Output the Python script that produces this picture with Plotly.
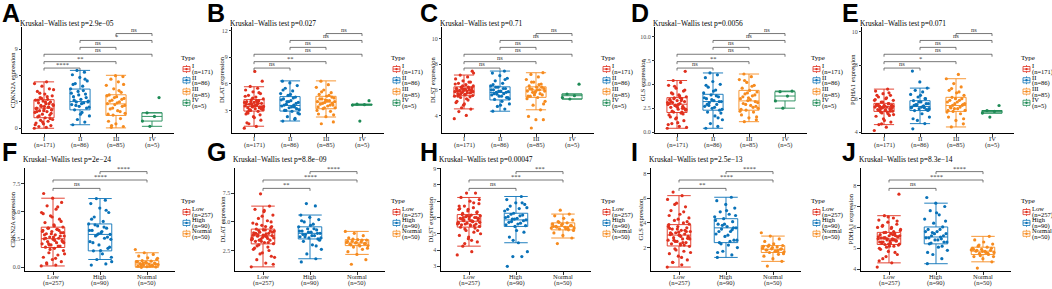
import plotly.graph_objects as go

W, H = 1052, 289

# ---------------- data ----------------
STAGE = ["I", "II", "III", "IV"]
STAGE_N = ["(n=171)", "(n=86)", "(n=85)", "(n=5)"]
RISK = ["Low", "High", "Normal"]
RISK_N = ["(n=257)", "(n=90)", "(n=50)"]
GENES = ["CDKN2A", "DLAT", "DLST", "GLS", "PDHA1"]
PVAL_STAGE = ["2.9e\u221205", "0.027", "0.71", "0.0056", "0.071"]
PVAL_RISK = ["2e\u221224", "8.8e\u221209", "0.00047", "2.5e\u221213", "8.3e\u221214"]
# pair order stage: I-II, I-III, I-IV, II-III, II-IV, III-IV
SIG_A = ["****", "**", "ns", "ns", "*", "ns"]
SIG_B = ["ns", "**", "ns", "ns", "ns", "ns"]
SIG_C = ["ns", "ns", "ns", "ns", "ns", "ns"]
SIG_D = ["ns", "**", "ns", "ns", "ns", "ns"]
SIG_E = ["ns", "*", "ns", "ns", "ns", "ns"]
# pair order risk: Low-High, Low-Normal, High-Normal
SIG_F = ["ns", "****", "****"]
SIG_G = ["**", "****", "****"]
SIG_H = ["ns", "***", "***"]
SIG_I = ["**", "****", "****"]
SIG_J = ["ns", "****", "****"]

# box statistics per group: lower whisker, q1, median, q3, upper whisker
A_LO = [0.0, 0.4, 0.04, 0.22];  A_Q1 = [1.2, 2.1, 1.46, 0.82];  A_MED = [2.3, 3.04, 2.78, 1.35]
A_Q3 = [3.26, 4.47, 3.82, 1.76]; A_HI = [5.29, 6.6, 6.04, 1.76]
B_LO = [1.22, 1.81, 2.26, 3.6];  B_Q1 = [2.93, 2.93, 3.19, 3.6];  B_MED = [3.44, 3.56, 3.93, 3.65]
B_Q3 = [4.22, 4.56, 4.59, 3.7];  B_HI = [5.67, 6.33, 6.33, 3.7]
C_LO = [4.51, 4.33, 4.44, 5.28]; C_Q1 = [5.54, 5.21, 5.41, 5.28]; C_MED = [5.92, 5.79, 5.98, 5.54]
C_Q3 = [6.23, 6.23, 6.23, 5.67]; C_HI = [7.15, 7.46, 7.33, 5.67]
D_LO = [0.41, 0.41, 1.1, 2.51];  D_Q1 = [2.06, 2.3, 2.3, 3.27];   D_MED = [2.92, 3.2, 3.27, 3.78]
D_Q3 = [3.61, 3.96, 4.37, 4.23]; D_HI = [5.4, 6.19, 6.08, 4.3]
E_LO = [4.45, 4.51, 4.31, 5.14]; E_Q1 = [5.24, 5.29, 5.24, 5.14]; E_MED = [5.53, 5.53, 5.59, 5.24]
E_Q3 = [5.72, 5.88, 6.08, 5.29]; E_HI = [6.57, 6.63, 7.19, 5.29]
F_LO = [0.12, 0.7, 0.0];   F_Q1 = [1.77, 1.47, 0.06];  F_MED = [2.56, 2.94, 0.29]
F_Q3 = [3.59, 3.88, 0.59]; F_HI = [6.18, 6.15, 1.3]
G_LO = [1.07, 1.78, 2.16]; G_Q1 = [3.08, 3.51, 2.93];  G_MED = [3.79, 4.0, 3.16]
G_Q3 = [4.37, 4.57, 3.45]; G_HI = [6.38, 5.6, 4.17]
H_LO = [4.24, 4.45, 4.74]; H_Q1 = [5.41, 5.45, 5.24];  H_MED = [5.77, 5.85, 5.45]
H_Q3 = [6.18, 6.26, 5.67]; H_HI = [7.23, 7.29, 6.21]
I_LO = [0.42, 1.2, 0.88];  I_Q1 = [2.13, 2.4, 1.6];    I_MED = [3.01, 3.6, 1.86]
I_Q3 = [3.86, 4.34, 2.16]; I_HI = [6.21, 6.08, 2.93]
J_LO = [4.3, 4.26, 4.35];  J_Q1 = [5.18, 5.21, 4.7];   J_MED = [5.45, 5.54, 4.86]
J_Q3 = [5.76, 6.02, 5.05]; J_HI = [6.56, 7.16, 5.57]

# individual sample points
A_I = [0.0, 0.1, 0.2, 0.3, 0.5, 0.6, 0.8, 0.9, 1.0, 1.2, 1.3, 1.5, 1.6, 1.8, 1.9, 2.0, 2.1, 2.2,
       2.3, 2.4, 2.5, 2.6, 2.8, 2.9, 3.0, 3.1, 3.2, 3.3, 3.5, 3.7, 3.9, 4.2, 4.5, 4.8, 5.1, 5.3,
       1.4, 1.7, 2.0, 2.2, 2.4, 2.6, 2.7, 3.0, 3.2, 1.1, 0.7, 0.4, 3.6, 4.0, 2.1, 2.5, 1.9, 2.8, 3.4, 4.4]
A_II = [0.4, 0.7, 1.0, 1.4, 1.8, 2.1, 2.3, 2.5, 2.7, 2.9, 3.0, 3.1, 3.3, 3.6, 3.9, 4.2, 4.5,
        4.8, 5.1, 5.4, 5.8, 6.1, 6.4, 6.6, 2.4, 2.8, 3.2, 3.5, 3.8, 4.0, 4.3, 2.6, 3.0, 1.6, 5.0, 5.6]
A_III = [0.1, 0.2, 0.5, 0.8, 1.1, 1.5, 1.7, 2.0, 2.2, 2.5, 2.7, 2.8, 3.0, 3.2, 3.4, 3.6, 3.8,
         4.1, 4.5, 4.9, 5.3, 5.6, 5.9, 6.0, 1.6, 1.9, 2.3, 2.6, 2.9, 3.1, 3.3, 3.5, 3.7, 4.3, 0.3, 5.0]
A_IV = [0.22, 0.82, 1.35, 1.76, 3.5]
B_I = [1.0, 1.2, 1.5, 1.9, 2.3, 2.6, 2.9, 3.0, 3.1, 3.2, 3.3, 3.4, 3.4, 3.5, 3.6, 3.7, 3.8, 3.9,
       4.0, 4.1, 4.2, 4.3, 4.5, 4.7, 4.9, 5.1, 5.3, 5.5, 5.7, 6.3, 7.4, 2.8, 3.3, 3.6, 3.9, 4.1,
       3.0, 3.2, 3.5, 3.7, 3.8, 4.0, 3.3, 3.6, 2.7, 2.5, 4.4, 4.6, 3.9, 3.1, 3.4, 2.2, 1.6, 5.0, 3.75, 3.45]
B_II = [1.8, 2.0, 2.3, 2.6, 2.9, 3.0, 3.2, 3.3, 3.5, 3.6, 3.7, 3.9, 4.1, 4.3, 4.5, 4.7, 4.9,
        5.2, 5.5, 5.8, 6.1, 6.3, 3.4, 4.0, 3.1, 3.4, 3.6, 3.8, 4.0, 4.2, 4.4, 3.0, 2.7, 4.8, 5.3, 2.1]
B_III = [1.5, 1.7, 2.3, 2.6, 2.9, 3.2, 3.3, 3.5, 3.7, 3.8, 3.9, 4.0, 4.1, 4.3, 4.4, 4.6, 4.8,
         5.0, 5.3, 5.6, 5.9, 6.3, 3.6, 4.2, 3.4, 3.6, 3.8, 4.0, 4.1, 4.3, 4.5, 3.3, 3.0, 4.7, 5.1, 2.5]
B_IV = [1.8, 3.6, 3.65, 3.7, 4.1]
C_I = [3.75, 4.0, 4.3, 4.5, 4.8, 5.0, 5.2, 5.4, 5.55, 5.6, 5.7, 5.75, 5.8, 5.85, 5.9, 5.95, 6.0,
       6.05, 6.1, 6.15, 6.2, 6.3, 6.4, 6.5, 6.6, 6.7, 6.85, 7.0, 7.15, 7.45, 5.65, 5.9, 6.0, 6.1, 5.5, 5.3,
       5.6, 5.8, 5.95, 6.1, 6.2, 5.7, 5.85, 6.05, 5.5, 5.45, 6.3, 6.45, 5.75, 5.9, 6.15, 4.9, 5.1, 6.6, 4.6, 7.3]
C_II = [4.33, 4.5, 4.7, 4.9, 5.1, 5.25, 5.4, 5.5, 5.6, 5.7, 5.8, 5.85, 5.9, 6.0, 6.1, 6.2, 6.3,
        6.5, 6.7, 6.9, 7.1, 7.3, 7.46, 5.65, 5.3, 5.5, 5.7, 5.8, 5.9, 6.0, 6.1, 6.2, 5.4, 4.8, 6.4, 6.8]
C_III = [3.02, 3.67, 3.67, 3.92, 4.44, 4.8, 5.1, 5.4, 5.5, 5.6, 5.75, 5.9, 6.0, 6.05, 6.1, 6.2,
         6.3, 6.45, 6.6, 6.8, 7.0, 7.2, 7.33, 5.85, 5.5, 5.7, 5.8, 5.9, 6.0, 6.1, 6.2, 5.6, 5.3, 6.4, 6.6, 4.9]
C_IV = [5.28, 5.4, 5.54, 5.67, 6.44]
D_I = [0.41, 0.6, 0.9, 1.2, 1.5, 1.8, 2.0, 2.1, 2.3, 2.4, 2.6, 2.7, 2.8, 2.9, 3.0, 3.1, 3.2, 3.3,
       3.4, 3.5, 3.6, 3.7, 3.9, 4.1, 4.3, 4.6, 4.9, 5.2, 5.4, 6.36, 1.0, 1.6, 2.5, 2.8, 3.1, 3.8,
       2.2, 2.5, 2.7, 3.0, 3.3, 3.5, 2.4, 2.9, 3.2, 1.9, 1.4, 0.8, 3.6, 4.0, 4.4, 2.6, 3.4, 2.1, 4.8, 0.5]
D_II = [0.41, 0.6, 0.9, 1.3, 1.7, 2.1, 2.3, 2.5, 2.7, 2.9, 3.1, 3.2, 3.3, 3.5, 3.7, 3.9, 4.1,
        4.4, 4.7, 5.0, 5.3, 5.7, 6.0, 6.19, 2.4, 2.6, 2.9, 3.2, 3.4, 3.6, 3.8, 2.8, 2.0, 4.3, 4.9, 1.5]
D_III = [1.1, 1.3, 1.5, 1.8, 2.1, 2.3, 2.5, 2.8, 3.0, 3.2, 3.3, 3.5, 3.8, 4.0, 4.2, 4.37, 4.6,
         4.9, 5.2, 5.5, 5.8, 6.08, 2.7, 3.6, 2.4, 2.6, 2.9, 3.1, 3.4, 3.7, 3.9, 4.1, 2.2, 4.8, 5.4, 1.6]
D_IV = [2.51, 3.27, 3.78, 4.23, 4.3]
E_I = [4.1, 4.3, 4.45, 4.6, 4.8, 4.95, 5.1, 5.2, 5.25, 5.3, 5.35, 5.4, 5.45, 5.5, 5.5, 5.55, 5.6,
       5.6, 5.65, 5.7, 5.8, 5.9, 6.0, 6.1, 6.2, 6.3, 6.45, 6.57, 5.35, 5.45, 5.55, 5.65, 5.0, 5.15, 5.9, 6.05,
       5.3, 5.4, 5.5, 5.6, 5.7, 5.45, 5.55, 5.35, 5.65, 5.25, 5.8, 5.95, 5.2, 5.5, 5.6, 4.7, 6.2, 6.35, 4.5, 5.05]
E_II = [4.2, 4.51, 4.7, 4.9, 5.1, 5.29, 5.35, 5.4, 5.5, 5.55, 5.6, 5.7, 5.8, 5.88, 6.0, 6.1, 6.25,
        6.4, 6.5, 6.63, 7.0, 7.65, 5.45, 5.65, 5.4, 5.5, 5.6, 5.7, 5.8, 5.45, 5.55, 5.65, 5.3, 6.2, 4.8, 6.0]
E_III = [4.31, 4.5, 4.7, 4.9, 5.1, 5.24, 5.3, 5.4, 5.5, 5.6, 5.7, 5.8, 5.9, 6.08, 6.2, 6.35, 6.5,
         6.7, 6.9, 7.19, 7.45, 5.45, 5.65, 6.0, 5.3, 5.5, 5.6, 5.7, 5.8, 5.9, 6.0, 5.4, 5.2, 6.4, 6.6, 4.8]
E_IV = [4.9, 5.14, 5.24, 5.29, 5.59]
F_LOW = [0.12, 0.2, 0.3, 0.5, 0.7, 0.9, 1.1, 1.3, 1.5, 1.7, 1.8, 1.9, 2.0, 2.1, 2.2, 2.3, 2.4, 2.5,
         2.55, 2.6, 2.7, 2.8, 2.9, 3.0, 3.1, 3.2, 3.3, 3.4, 3.5, 3.6, 3.8, 4.0, 4.3, 4.6, 4.9, 5.2,
         5.5, 5.8, 6.18, 6.6, 1.9, 2.0, 2.2, 2.4, 2.6, 2.8, 3.0, 3.2, 3.4, 3.5, 2.3, 2.7, 2.9, 3.3,
         1.6, 1.2, 0.8, 0.4, 4.1, 4.5, 4.8, 5.4, 2.1, 3.1, 3.7]
F_HIGH = [0.2, 0.3, 0.7, 0.9, 1.2, 1.47, 1.7, 2.0, 2.3, 2.6, 2.8, 2.94, 3.1, 3.3, 3.5, 3.7, 3.88,
          4.1, 4.5, 4.9, 5.3, 5.7, 6.0, 6.15, 2.5, 3.2, 2.2, 2.7, 3.0, 3.3, 3.6, 3.8, 1.8, 1.5, 4.3,
          5.1, 2.9, 0.5]
F_NORMAL = [0.0, 0.03, 0.06, 0.1, 0.15, 0.2, 0.25, 0.29, 0.33, 0.38, 0.45, 0.5, 0.55, 0.59, 0.7,
            0.85, 1.0, 1.15, 1.3, 1.59, 0.1, 0.2, 0.3, 0.4, 0.5, 0.15, 0.35, 0.8]
G_LOW = [1.07, 1.4, 1.7, 2.0, 2.3, 2.6, 2.8, 3.0, 3.1, 3.2, 3.3, 3.4, 3.5, 3.6, 3.7, 3.75, 3.8,
         3.85, 3.9, 4.0, 4.1, 4.2, 4.3, 4.37, 4.5, 4.7, 4.9, 5.1, 5.3, 5.6, 5.9, 6.1, 6.38, 7.45,
         3.45, 3.95, 2.9, 4.6, 3.65, 4.05, 3.2, 3.4, 3.6, 3.8, 4.0, 4.2, 3.3, 3.5, 3.7, 3.9, 4.1,
         4.3, 2.7, 2.5, 2.2, 1.9, 4.6, 4.8, 5.0, 5.5, 3.85, 3.55, 4.25, 1.3, 6.0]
G_HIGH = [1.5, 1.78, 2.2, 2.6, 3.0, 3.3, 3.51, 3.6, 3.7, 3.8, 3.9, 4.0, 4.1, 4.2, 4.3, 4.4, 4.57,
          4.8, 5.0, 5.2, 5.4, 5.6, 6.4, 6.6, 3.6, 3.8, 3.9, 4.0, 4.1, 4.2, 4.4, 3.7, 3.4, 4.7, 5.1, 2.9]
G_NORMAL = [1.3, 1.7, 2.16, 2.4, 2.6, 2.8, 2.93, 3.0, 3.05, 3.1, 3.16, 3.2, 3.25, 3.3, 3.4, 3.45,
            3.6, 3.8, 4.0, 4.17, 2.9, 3.0, 3.1, 3.2, 3.3, 3.4, 3.5, 2.7]
H_LOW = [3.7, 3.9, 4.24, 4.5, 4.7, 4.9, 5.1, 5.3, 5.45, 5.5, 5.55, 5.6, 5.65, 5.7, 5.75, 5.8, 5.85,
         5.9, 5.95, 6.0, 6.05, 6.1, 6.15, 6.18, 6.3, 6.4, 6.5, 6.6, 6.7, 6.85, 7.0, 7.23, 7.5, 7.5,
         5.6, 5.8, 6.0, 5.2, 4.8, 6.55, 5.5, 5.6, 5.7, 5.8, 5.9, 6.0, 6.1, 5.65, 5.75, 5.85, 5.95,
         6.05, 5.4, 5.35, 5.2, 5.0, 4.6, 6.25, 6.35, 6.5, 6.7, 6.9, 4.4, 7.1, 5.55]
H_HIGH = [3.0, 3.6, 3.6, 3.9, 4.45, 4.8, 5.1, 5.45, 5.55, 5.65, 5.75, 5.85, 5.95, 6.05, 6.15, 6.26,
          6.4, 6.55, 6.7, 6.8, 6.9, 7.1, 7.29, 5.9, 6.6, 5.6, 5.7, 5.8, 5.9, 6.0, 6.1, 6.2, 5.5, 5.2,
          6.5, 6.9, 4.6]
H_NORMAL = [4.4, 4.74, 4.9, 5.05, 5.24, 5.3, 5.35, 5.4, 5.45, 5.5, 5.55, 5.6, 5.67, 5.75, 5.85,
            5.95, 6.1, 6.21, 6.45, 5.35, 5.3, 5.4, 5.5, 5.6, 5.45, 5.35, 5.7, 5.2]
I_LOW = [0.42, 0.6, 0.8, 1.0, 1.3, 1.5, 1.7, 1.9, 2.1, 2.2, 2.3, 2.4, 2.5, 2.6, 2.7, 2.8, 2.9, 3.0,
         3.05, 3.1, 3.2, 3.3, 3.4, 3.5, 3.6, 3.7, 3.86, 4.0, 4.2, 4.4, 4.7, 5.0, 5.3, 5.6, 5.9, 6.21,
         6.5, 2.75, 3.25, 3.55, 2.2, 2.5, 2.7, 2.9, 3.1, 3.3, 3.5, 3.7, 2.4, 2.6, 2.8, 3.0, 3.2, 3.4,
         1.8, 1.6, 1.2, 0.8, 4.1, 4.3, 4.6, 4.9, 5.5, 3.9, 2.3]
I_HIGH = [1.2, 1.4, 1.7, 2.0, 2.2, 2.4, 2.6, 2.9, 3.1, 3.3, 3.5, 3.6, 3.7, 3.9, 4.1, 4.34, 4.5,
          4.7, 4.9, 5.2, 5.5, 5.8, 6.08, 3.8, 2.6, 3.0, 3.3, 3.6, 3.9, 4.2, 2.5, 2.3, 4.6, 5.0, 1.6, 3.45]
I_NORMAL = [0.5, 0.88, 1.1, 1.3, 1.45, 1.6, 1.65, 1.7, 1.8, 1.86, 1.9, 1.95, 2.05, 2.1, 2.16, 2.3,
            2.5, 2.7, 2.93, 3.2, 1.7, 1.8, 1.9, 2.0, 2.1, 1.75, 2.2, 1.5]
J_LOW = [4.1, 4.3, 4.5, 4.7, 4.85, 5.0, 5.1, 5.18, 5.2, 5.25, 5.3, 5.35, 5.4, 5.45, 5.45, 5.5, 5.55,
         5.6, 5.65, 5.7, 5.76, 5.85, 5.95, 6.05, 6.15, 6.25, 6.35, 6.45, 6.56, 7.59, 5.35, 5.5, 5.6,
         5.05, 6.0, 5.4, 5.3, 5.55, 5.2, 5.3, 5.4, 5.5, 5.6, 5.7, 5.25, 5.35, 5.45, 5.55, 5.65, 5.75,
         5.15, 5.1, 4.95, 4.8, 4.6, 5.9, 6.0, 6.1, 6.3, 6.5, 4.4, 5.8, 5.5]
J_HIGH = [4.26, 4.5, 4.7, 4.9, 5.05, 5.21, 5.3, 5.4, 5.5, 5.54, 5.6, 5.7, 5.8, 5.9, 6.02, 6.2, 6.4,
          6.6, 6.8, 7.0, 7.16, 7.43, 5.45, 5.75, 5.3, 5.4, 5.5, 5.6, 5.7, 5.8, 5.9, 5.25, 6.3, 6.7, 4.8, 5.1]
J_NORMAL = [4.05, 4.35, 4.5, 4.6, 4.7, 4.75, 4.8, 4.85, 4.86, 4.9, 4.95, 5.0, 5.05, 5.1, 5.2, 5.3,
            5.4, 5.57, 4.65, 4.92, 4.8, 4.9, 5.0, 4.85, 4.95, 4.75, 5.15, 4.6]

# ---------------- styling / layout config ----------------
COL_STAGE = ["#E0301E", "#0A72B8", "#F68B1F", "#1E8A55"]
COL_RISK = ["#E0301E", "#0A72B8", "#F68B1F"]
SERIF = "Liberation Serif"

ROW = {
    0: dict(ytop=25, ybot=133, sp=36, bw=0.56, jit=0.27, title_y=22, letter_y=11,
            type_y=57, leg_y0=68, leg_step=11.4, xlab_y=138.5,
            pairs=[(0, 1), (0, 2), (0, 3), (1, 2), (1, 3), (2, 3)],
            levels=[67, 60.5, 53, 46, 39, 32]),
    1: dict(ytop=168, ybot=273, sp=47, bw=0.5, jit=0.25, title_y=160, letter_y=152,
            type_y=202, leg_y0=213, leg_step=11, xlab_y=278.5,
            pairs=[(0, 1), (0, 2), (1, 2)],
            levels=[189, 180.5, 172]),
}
LEG_X = [183, 393, 603, 813, 1023]
LETTER_X = [0, 205, 418, 629, 840]
PAD = 3  # inner padding plotly adds around annotation text

PANELS = [
    dict(L="A", row=0, col=0, gene=GENES[0], p=PVAL_STAGE[0], sig=SIG_A, cx=44, ytx=13,
         pts=[A_I, A_II, A_III, A_IV], st=[A_LO, A_Q1, A_MED, A_Q3, A_HI],
         yr=[-0.56, 11.59], tv=[0, 3, 6, 9], tt=["0", "3", "6", "9"]),
    dict(L="B", row=0, col=1, gene=GENES[1], p=PVAL_STAGE[1], sig=SIG_B, cx=254, ytx=222,
         pts=[B_I, B_II, B_III, B_IV], st=[B_LO, B_Q1, B_MED, B_Q3, B_HI],
         yr=[0.44, 12.44], tv=[3, 6, 9, 12], tt=["3", "6", "9", "12"]),
    dict(L="C", row=0, col=2, gene=GENES[2], p=PVAL_STAGE[2], sig=SIG_C, cx=464, ytx=433,
         pts=[C_I, C_II, C_III, C_IV], st=[C_LO, C_Q1, C_MED, C_Q3, C_HI],
         yr=[2.62, 10.92], tv=[4, 6, 8, 10], tt=["4", "6", "8", "10"]),
    dict(L="D", row=0, col=3, gene=GENES[3], p=PVAL_STAGE[3], sig=SIG_D, cx=677, ytx=643,
         pts=[D_I, D_II, D_III, D_IV], st=[D_LO, D_Q1, D_MED, D_Q3, D_HI],
         yr=[-0.1, 11.03], tv=[0, 2.5, 5, 7.5, 10], tt=["0.0", "2.5", "5.0", "7.5", "10.0"]),
    dict(L="E", row=0, col=4, gene=GENES[4], p=PVAL_STAGE[4], sig=SIG_E, cx=884, ytx=853,
         pts=[E_I, E_II, E_III, E_IV], st=[E_LO, E_Q1, E_MED, E_Q3, E_HI],
         yr=[3.94, 10.3], tv=[4, 6, 8, 10], tt=["4", "6", "8", "10"]),
    dict(L="F", row=1, col=0, gene=GENES[0], p=PVAL_RISK[0], sig=SIG_F, cx=53, ytx=12,
         pts=[F_LOW, F_HIGH, F_NORMAL], st=[F_LO, F_Q1, F_MED, F_Q3, F_HI],
         yr=[-0.35, 8.91], tv=[0, 2.5, 5, 7.5], tt=["0.0", "2.5", "5.0", "7.5"]),
    dict(L="G", row=1, col=1, gene=GENES[1], p=PVAL_RISK[1], sig=SIG_G, cx=263, ytx=222,
         pts=[G_LOW, G_HIGH, G_NORMAL], st=[G_LO, G_Q1, G_MED, G_Q3, G_HI],
         yr=[0.69, 9.74], tv=[2.5, 5, 7.5], tt=["2.5", "5.0", "7.5"]),
    dict(L="H", row=1, col=2, gene=GENES[2], p=PVAL_RISK[2], sig=SIG_H, cx=469, ytx=430,
         pts=[H_LOW, H_HIGH, H_NORMAL], st=[H_LO, H_Q1, H_MED, H_Q3, H_HI],
         yr=[2.7, 9.06], tv=[3, 4, 5, 6, 7, 8, 9], tt=["3", "4", "5", "6", "7", "8", "9"]),
    dict(L="I", row=1, col=3, gene=GENES[3], p=PVAL_RISK[3], sig=SIG_I, cx=679, ytx=640,
         pts=[I_LOW, I_HIGH, I_NORMAL], st=[I_LO, I_Q1, I_MED, I_Q3, I_HI],
         yr=[0.08, 8.48], tv=[2, 4, 6, 8], tt=["2", "4", "6", "8"]),
    dict(L="J", row=1, col=4, gene=GENES[4], p=PVAL_RISK[4], sig=SIG_J, cx=889, ytx=850,
         pts=[J_LOW, J_HIGH, J_NORMAL], st=[J_LO, J_Q1, J_MED, J_Q3, J_HI],
         yr=[3.9, 8.86], tv=[4, 5, 6, 7, 8], tt=["4", "5", "6", "7", "8"]),
]


def PX(x):
    return x / W


def PY(y):
    return 1 - y / H


fig = go.Figure()
ann = []
shp = []
lay = {}

for k, P in enumerate(PANELS):
    n = k + 1
    sfx = "" if n == 1 else str(n)
    xa, ya = "x" + sfx, "y" + sfx
    R = ROW[P["row"]]
    cats = STAGE if P["row"] == 0 else RISK
    ncat = RISK_N if P["row"] == 1 else STAGE_N
    cols = COL_STAGE if P["row"] == 0 else COL_RISK
    ng = len(cats)
    sp = R["sp"]
    x0 = P["cx"] - 0.6 * sp
    x1 = P["cx"] + (ng - 1 + 0.6) * sp
    ymin, ymax = P["yr"]
    ytop, ybot = R["ytop"], R["ybot"]

    def dy(py, ymin=ymin, ymax=ymax, ytop=ytop, ybot=ybot):
        return ymin + (ybot - py) / (ybot - ytop) * (ymax - ymin)

    lay["xaxis" + sfx] = dict(domain=[PX(x0), PX(x1)], range=[-0.6, ng - 1 + 0.6], anchor=ya,
                              showline=True, linecolor="black", linewidth=0.8, ticks="outside",
                              ticklen=2.5, tickwidth=0.8, tickcolor="#333", tickvals=list(range(ng)),
                              showticklabels=False, showgrid=False, zeroline=False, fixedrange=True)
    lay["yaxis" + sfx] = dict(domain=[PY(ybot), PY(ytop)], range=[ymin, ymax], anchor=xa,
                              showline=True, linecolor="black", linewidth=0.8, ticks="outside",
                              ticklen=2.5, tickwidth=0.8, tickcolor="#333", tickvals=P["tv"],
                              ticktext=P["tt"], tickfont=dict(family=SERIF, size=6, color="#4D4D4D"),
                              showgrid=False, zeroline=False, fixedrange=True)

    lo, q1, med, q3, hi = P["st"]
    for i in range(ng):
        c = cols[i]
        fig.add_trace(go.Box(x=[i], q1=[q1[i]], median=[med[i]], q3=[q3[i]],
                             lowerfence=[lo[i]], upperfence=[hi[i]], width=R["bw"], whiskerwidth=1,
                             line=dict(color=c, width=0.9), fillcolor="rgba(255,255,255,0)",
                             boxpoints=False, xaxis=xa, yaxis=ya, showlegend=False, hoverinfo="skip"))
        vals = P["pts"][i]
        offs = [(((j * 0.6180339887 + 0.13 * i) % 1.0) - 0.5) * 2 * R["jit"] for j in range(len(vals))]
        fig.add_trace(go.Scatter(x=[i + o for o in offs], y=vals, mode="markers",
                                 marker=dict(size=3.2, color=c, line=dict(width=0)),
                                 xaxis=xa, yaxis=ya, showlegend=False, hoverinfo="skip"))
        ann.append(dict(x=i, y=PY(R["xlab_y"]), xref=xa, yref="paper", text=cats[i], showarrow=False,
                        font=dict(family=SERIF, size=6.5, color="#1A1A1A"), xanchor="center", yanchor="middle"))
        ann.append(dict(x=i, y=PY(R["xlab_y"] + 6.5), xref=xa, yref="paper", text=ncat[i], showarrow=False,
                        font=dict(family=SERIF, size=6.5, color="#1A1A1A"), xanchor="center", yanchor="middle"))

    # significance brackets
    for (a, b), lvl, lab in zip(R["pairs"], R["levels"], P["sig"]):
        yl, yt = dy(lvl), dy(lvl + 2.5)
        shp.append(dict(type="path", xref=xa, yref=ya,
                        path=f"M {a},{yt} L {a},{yl} L {b},{yl} L {b},{yt}",
                        line=dict(color="#555555", width=0.8)))
        ann.append(dict(x=(a + b) / 2, y=yl, xref=xa, yref=ya, text=lab, showarrow=False,
                        font=dict(family=SERIF, size=6.5, color="#333333"),
                        xanchor="center", yanchor="bottom", yshift=-2 if "*" in lab else -1))

    ann.append(dict(x=PX(x0 - 1 - PAD), y=PY(R["title_y"]), xref="paper", yref="paper",
                    text=f"Kruskal\u2212Wallis test p={P['p']}", showarrow=False,
                    font=dict(family=SERIF, size=7.5, color="black"), xanchor="left", yanchor="middle"))
    ann.append(dict(x=PX(P["ytx"]), y=PY((ytop + ybot) / 2), xref="paper", yref="paper",
                    text=f"{P['gene']} expression", showarrow=False, textangle=-90,
                    font=dict(family=SERIF, size=6.5, color="black"), xanchor="center", yanchor="middle"))
    ann.append(dict(x=PX(LETTER_X[P["col"]]), y=PY(R["letter_y"]), xref="paper", yref="paper",
                    text=f"<b>{P['L']}</b>", showarrow=False,
                    font=dict(family="Liberation Sans", size=25, color="black"),
                    xanchor="left", yanchor="middle"))

    lx = LEG_X[P["col"]]
    ann.append(dict(x=PX(lx - 1 - PAD), y=PY(R["type_y"]), xref="paper", yref="paper", text="Type",
                    showarrow=False, font=dict(family=SERIF, size=7, color="black"),
                    xanchor="left", yanchor="middle"))
    for i in range(ng):
        c = cols[i]
        cy = R["leg_y0"] + i * R["leg_step"]
        shp.append(dict(type="rect", xref="paper", yref="paper", x0=PX(lx), x1=PX(lx + 7),
                        y0=PY(cy + 2.6), y1=PY(cy - 2.6), line=dict(color=c, width=0.8),
                        fillcolor="white"))
        shp.append(dict(type="line", xref="paper", yref="paper", x0=PX(lx + 3.5), x1=PX(lx + 3.5),
                        y0=PY(cy - 2.6), y1=PY(cy - 4), line=dict(color=c, width=0.8)))
        shp.append(dict(type="line", xref="paper", yref="paper", x0=PX(lx + 3.5), x1=PX(lx + 3.5),
                        y0=PY(cy + 2.6), y1=PY(cy + 4), line=dict(color=c, width=0.8)))
        shp.append(dict(type="line", xref="paper", yref="paper", x0=PX(lx), x1=PX(lx + 7),
                        y0=PY(cy), y1=PY(cy), line=dict(color=c, width=0.8)))
        shp.append(dict(type="circle", xref="paper", yref="paper", x0=PX(lx + 2.3), x1=PX(lx + 4.7),
                        y0=PY(cy + 1.2), y1=PY(cy - 1.2), line=dict(color=c, width=0), fillcolor=c))
        ann.append(dict(x=PX(lx + 10 - PAD), y=PY(cy - 3.2), xref="paper", yref="paper", text=cats[i],
                        showarrow=False, font=dict(family=SERIF, size=6.5, color="black"),
                        xanchor="left", yanchor="middle"))
        ann.append(dict(x=PX(lx + 10 - PAD), y=PY(cy + 3.2), xref="paper", yref="paper", text=ncat[i],
                        showarrow=False, font=dict(family=SERIF, size=6.5, color="black"),
                        xanchor="left", yanchor="middle"))

fig.update_layout(width=W, height=H, margin=dict(l=0, r=0, t=0, b=0),
                  paper_bgcolor="white", plot_bgcolor="white", showlegend=False,
                  annotations=ann, shapes=shp, **lay)
fig.write_html("out.html", config={"displayModeBar": False},
               post_script="document.body.style.margin='0';document.body.style.overflow='hidden';")
